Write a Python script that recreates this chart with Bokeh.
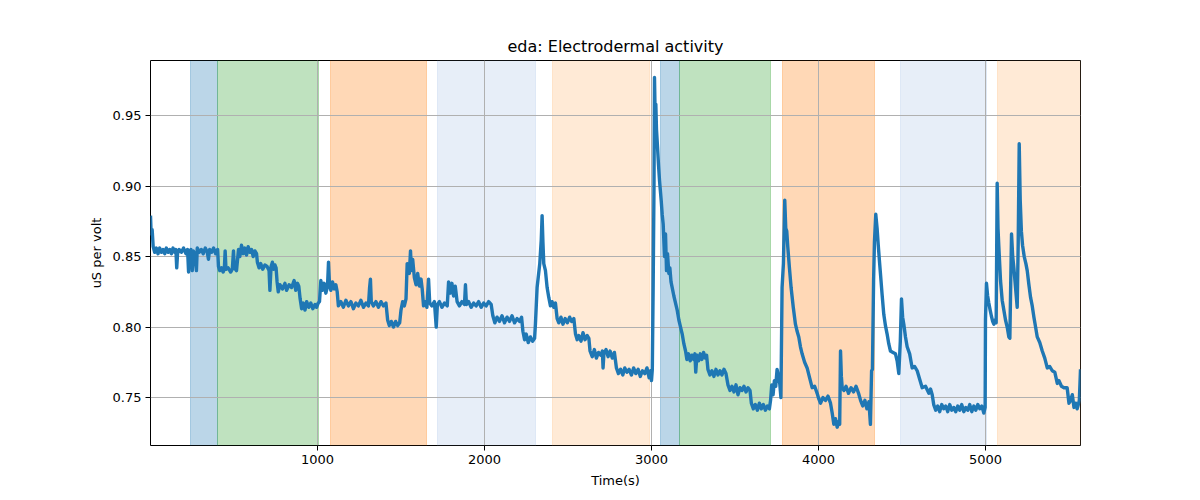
from bokeh.plotting import figure
from bokeh.models import ColumnDataSource, FixedTicker, PrintfTickFormatter, Range1d
from bokeh.embed import file_html
from bokeh.resources import INLINE

# ---------------- data ----------------
title_text = "eda: Electrodermal activity"
x_label = "Time(s)"
y_label = "uS per volt"

x_ticks = [1000, 2000, 3000, 4000, 5000]
y_ticks = [0.75, 0.80, 0.85, 0.90, 0.95]

# shaded condition intervals (seconds)
band_start = [240, 403, 1078, 1719, 2409, 3054, 3170, 3787, 4491, 5072]
band_end = [403, 1008, 1651, 2305, 2988, 3170, 3711, 4335, 5004, 5600]
band_color = ["#1f77b4", "#2ca02c", "#ff7f0e", "#aec7e8", "#ffbb78",
              "#1f77b4", "#2ca02c", "#ff7f0e", "#aec7e8", "#ffbb78"]
band_alpha = [0.3, 0.3, 0.3, 0.3, 0.3, 0.3, 0.3, 0.3, 0.3, 0.3]

# EDA signal samples: (time s, value uS per volt)
eda_samples = [
    (0, 0.879), (4, 0.866), (10, 0.869), (16, 0.857), (25, 0.853), (35, 0.856),
    (45, 0.852), (55, 0.856), (65, 0.853), (75, 0.855), (85, 0.852), (95, 0.856),
    (105, 0.853), (115, 0.855), (125, 0.852), (135, 0.856), (145, 0.853), (152, 0.855),
    (157, 0.842), (162, 0.852), (172, 0.855), (185, 0.853), (198, 0.856), (212, 0.852),
    (222, 0.855), (228, 0.839), (233, 0.853), (242, 0.855), (250, 0.840), (256, 0.854),
    (265, 0.852), (275, 0.840), (280, 0.856), (292, 0.853), (304, 0.855), (316, 0.852),
    (328, 0.856), (340, 0.853), (347, 0.848), (354, 0.855), (366, 0.853), (378, 0.856),
    (390, 0.852), (402, 0.855),
    (407, 0.843), (415, 0.840), (425, 0.842), (435, 0.839), (442, 0.841), (447, 0.854),
    (452, 0.841), (465, 0.842), (480, 0.839), (490, 0.841), (497, 0.854), (502, 0.842),
    (515, 0.840), (527, 0.855), (535, 0.850), (545, 0.858), (555, 0.852), (565, 0.856),
    (575, 0.851), (585, 0.857), (595, 0.853), (605, 0.855), (615, 0.850), (625, 0.854),
    (635, 0.852),
    (640, 0.846), (650, 0.842), (660, 0.845), (672, 0.841), (685, 0.844), (698, 0.843),
    (710, 0.840), (715, 0.826), (722, 0.843), (730, 0.846), (737, 0.841), (745, 0.844),
    (752, 0.842),
    (758, 0.832), (765, 0.825), (775, 0.830), (790, 0.827), (805, 0.831), (815, 0.826),
    (830, 0.830), (845, 0.828), (860, 0.833), (870, 0.826), (880, 0.831), (888, 0.829),
    (896, 0.820), (905, 0.813), (915, 0.817), (925, 0.812), (935, 0.818), (948, 0.814),
    (960, 0.817), (972, 0.813), (985, 0.816), (995, 0.814), (1004, 0.817),
    (1012, 0.818), (1020, 0.833), (1030, 0.826), (1040, 0.831), (1050, 0.824),
    (1060, 0.829), (1066, 0.846), (1072, 0.830), (1080, 0.826), (1090, 0.832),
    (1100, 0.827), (1110, 0.830), (1118, 0.825),
    (1125, 0.815), (1140, 0.818), (1155, 0.814), (1170, 0.819), (1185, 0.815),
    (1200, 0.818), (1215, 0.813), (1230, 0.817), (1245, 0.815), (1260, 0.819),
    (1275, 0.814), (1290, 0.817), (1305, 0.815), (1312, 0.828), (1317, 0.834),
    (1322, 0.818), (1335, 0.815), (1350, 0.818), (1365, 0.814), (1380, 0.818),
    (1395, 0.815), (1410, 0.817),
    (1420, 0.805), (1430, 0.801), (1442, 0.804), (1455, 0.800), (1468, 0.804),
    (1480, 0.801), (1492, 0.803),
    (1500, 0.812), (1510, 0.818), (1520, 0.815), (1530, 0.820), (1537, 0.845),
    (1550, 0.838), (1557, 0.854), (1562, 0.840), (1570, 0.848), (1580, 0.835),
    (1590, 0.830), (1600, 0.838), (1610, 0.829), (1620, 0.834), (1627, 0.827),
    (1635, 0.815), (1645, 0.818), (1655, 0.814), (1665, 0.834), (1672, 0.817),
    (1685, 0.815), (1700, 0.818), (1711, 0.800), (1718, 0.816), (1730, 0.818),
    (1745, 0.814), (1760, 0.817), (1777, 0.815), (1785, 0.832), (1795, 0.824),
    (1805, 0.831), (1815, 0.822), (1825, 0.829), (1836, 0.818), (1850, 0.815),
    (1865, 0.818), (1880, 0.816), (1886, 0.830), (1892, 0.816), (1905, 0.818),
    (1920, 0.814), (1935, 0.817), (1950, 0.815), (1965, 0.818), (1980, 0.814),
    (1995, 0.817), (2010, 0.815), (2025, 0.818), (2040, 0.816),
    (2050, 0.808), (2062, 0.803), (2075, 0.807), (2090, 0.804), (2105, 0.808),
    (2120, 0.803), (2135, 0.807), (2150, 0.804), (2165, 0.808), (2180, 0.803),
    (2195, 0.806), (2210, 0.804), (2222, 0.807),
    (2230, 0.797), (2240, 0.791), (2250, 0.795), (2262, 0.789), (2275, 0.793),
    (2288, 0.790), (2300, 0.792),
    (2305, 0.802), (2315, 0.828), (2331, 0.845), (2340, 0.862), (2345, 0.879),
    (2350, 0.860), (2355, 0.845), (2365, 0.840), (2375, 0.828), (2385, 0.821),
    (2395, 0.815), (2405, 0.818), (2415, 0.814), (2425, 0.817),
    (2435, 0.806), (2445, 0.803), (2458, 0.807), (2470, 0.802), (2483, 0.806),
    (2496, 0.803), (2510, 0.807), (2522, 0.804), (2535, 0.806),
    (2545, 0.795), (2555, 0.791), (2565, 0.794), (2578, 0.790), (2590, 0.796),
    (2602, 0.791), (2615, 0.794), (2625, 0.792),
    (2632, 0.783), (2645, 0.779), (2658, 0.784), (2670, 0.778), (2683, 0.782),
    (2696, 0.780), (2706, 0.783), (2710, 0.771), (2715, 0.781), (2728, 0.784),
    (2740, 0.779), (2752, 0.783), (2765, 0.778), (2778, 0.782),
    (2790, 0.771), (2802, 0.767), (2815, 0.770), (2828, 0.766), (2840, 0.771),
    (2853, 0.768), (2866, 0.770), (2880, 0.766), (2893, 0.771), (2906, 0.767),
    (2920, 0.770), (2933, 0.765), (2946, 0.769), (2960, 0.767), (2973, 0.771),
    (2986, 0.764), (2995, 0.769), (3000, 0.762),
    (3005, 0.770), (3010, 0.828), (3015, 0.900), (3018, 0.977), (3022, 0.950),
    (3026, 0.958), (3030, 0.940), (3036, 0.928), (3042, 0.915), (3048, 0.904),
    (3053, 0.897), (3058, 0.890), (3064, 0.880), (3070, 0.873), (3078, 0.850),
    (3084, 0.866), (3090, 0.840), (3096, 0.852), (3104, 0.838), (3110, 0.842),
    (3117, 0.832), (3124, 0.828), (3134, 0.822), (3144, 0.817), (3154, 0.812),
    (3164, 0.805), (3174, 0.800), (3184, 0.795), (3194, 0.788), (3204, 0.783),
    (3212, 0.777), (3222, 0.781), (3232, 0.776), (3242, 0.780), (3252, 0.777),
    (3260, 0.781), (3265, 0.768), (3272, 0.780), (3282, 0.776), (3292, 0.781),
    (3302, 0.777), (3312, 0.782), (3322, 0.778), (3330, 0.780),
    (3338, 0.770), (3350, 0.766), (3362, 0.769), (3374, 0.765), (3386, 0.770),
    (3398, 0.766), (3410, 0.769), (3422, 0.766), (3434, 0.770), (3446, 0.767),
    (3458, 0.759), (3470, 0.755), (3482, 0.758), (3494, 0.754), (3506, 0.759),
    (3518, 0.752), (3530, 0.757), (3542, 0.755), (3554, 0.758), (3566, 0.754),
    (3578, 0.757), (3590, 0.755),
    (3598, 0.746), (3610, 0.742), (3622, 0.745), (3634, 0.741), (3646, 0.746),
    (3658, 0.742), (3670, 0.745), (3682, 0.741), (3694, 0.744), (3706, 0.742),
    (3713, 0.748), (3720, 0.759), (3728, 0.752), (3736, 0.762), (3744, 0.758),
    (3752, 0.770), (3760, 0.765), (3768, 0.760), (3775, 0.750), (3782, 0.828),
    (3790, 0.845), (3798, 0.890), (3804, 0.870), (3810, 0.868), (3816, 0.857),
    (3826, 0.842), (3836, 0.828), (3849, 0.814), (3862, 0.802), (3872, 0.797),
    (3882, 0.793), (3892, 0.786), (3902, 0.781), (3917, 0.775), (3932, 0.771),
    (3947, 0.764), (3962, 0.757), (3977, 0.758), (3992, 0.753), (4002, 0.749),
    (4012, 0.746), (4027, 0.750), (4042, 0.748), (4057, 0.751), (4072, 0.746),
    (4082, 0.739), (4092, 0.731), (4102, 0.735), (4112, 0.729), (4122, 0.733),
    (4127, 0.731), (4132, 0.783), (4137, 0.765), (4142, 0.757), (4152, 0.755),
    (4165, 0.758), (4180, 0.753), (4195, 0.757), (4210, 0.754), (4225, 0.758),
    (4240, 0.753), (4252, 0.748), (4265, 0.744), (4278, 0.748), (4290, 0.742),
    (4302, 0.747), (4311, 0.731), (4318, 0.769), (4323, 0.770), (4330, 0.833),
    (4335, 0.860), (4343, 0.880), (4351, 0.870), (4358, 0.858), (4365, 0.847),
    (4371, 0.838), (4381, 0.823), (4391, 0.809), (4401, 0.801), (4411, 0.795),
    (4421, 0.788), (4431, 0.783), (4446, 0.782), (4461, 0.781), (4471, 0.776),
    (4481, 0.767), (4490, 0.790), (4497, 0.820), (4504, 0.807), (4511, 0.802),
    (4521, 0.793), (4531, 0.786), (4546, 0.781), (4561, 0.771), (4576, 0.772),
    (4591, 0.769), (4606, 0.763), (4621, 0.757), (4641, 0.758), (4661, 0.753),
    (4671, 0.756), (4681, 0.752),
    (4690, 0.745), (4702, 0.741), (4714, 0.744), (4726, 0.740), (4738, 0.745),
    (4750, 0.742), (4762, 0.744), (4774, 0.740), (4786, 0.745), (4798, 0.741),
    (4810, 0.743), (4822, 0.740), (4834, 0.744), (4846, 0.741), (4858, 0.745),
    (4870, 0.740), (4882, 0.743), (4894, 0.741), (4906, 0.745), (4918, 0.740),
    (4930, 0.744), (4942, 0.741), (4954, 0.745), (4966, 0.742), (4978, 0.744),
    (4990, 0.739), (4998, 0.743),
    (5000, 0.805), (5006, 0.831), (5013, 0.822), (5020, 0.817), (5028, 0.812),
    (5035, 0.808), (5043, 0.804), (5050, 0.802), (5058, 0.805), (5064, 0.803),
    (5070, 0.902), (5075, 0.870), (5080, 0.857), (5090, 0.833), (5100, 0.819),
    (5110, 0.812), (5120, 0.805), (5130, 0.800), (5140, 0.793), (5146, 0.792),
    (5151, 0.830), (5156, 0.866), (5163, 0.850), (5170, 0.842), (5180, 0.828),
    (5190, 0.814), (5196, 0.860), (5202, 0.930), (5208, 0.890), (5215, 0.868),
    (5222, 0.858), (5232, 0.850), (5242, 0.845), (5250, 0.840), (5260, 0.830),
    (5270, 0.821), (5280, 0.815), (5290, 0.807), (5300, 0.800), (5310, 0.793),
    (5325, 0.789), (5340, 0.783), (5355, 0.778), (5370, 0.771), (5385, 0.772),
    (5400, 0.769), (5415, 0.768), (5430, 0.760), (5440, 0.762), (5455, 0.758),
    (5470, 0.757), (5489, 0.757), (5500, 0.746), (5509, 0.748), (5520, 0.752),
    (5530, 0.743), (5540, 0.746), (5549, 0.742), (5556, 0.745), (5562, 0.748),
    (5569, 0.770),
]
time_s = [t for t, _ in eda_samples]
eda_values = [v for _, v in eda_samples]

# ---------------- figure ----------------
FONT = "DejaVu Sans"

p = figure(
    width=1184, height=492,
    output_backend="svg", toolbar_location=None,
    x_range=Range1d(0, 5569), y_range=Range1d(0.716, 0.989),
    min_border_left=150, min_border_right=104,
    min_border_top=60, min_border_bottom=47,
)
p.title.text = title_text
p.title.align = "center"
p.title.text_font = FONT
p.title.text_font_size = "16px"
p.title.text_font_style = "normal"
p.title.text_color = "black"

band_src = ColumnDataSource(dict(x0=band_start, x1=band_end,
                                 color=band_color, alpha=band_alpha))
p.vstrip(x0="x0", x1="x1", source=band_src,
         fill_color="color", fill_alpha="alpha",
         line_color="color", line_alpha="alpha", line_width=1,
         level="image")

src = ColumnDataSource(dict(t=time_s, v=eda_values))
p.line("t", "v", source=src, line_color="#1f77b4", line_width=3.4,
       line_join="round")

p.xaxis.ticker = FixedTicker(ticks=x_ticks)
p.yaxis.ticker = FixedTicker(ticks=y_ticks)
p.yaxis.formatter = PrintfTickFormatter(format="%.2f")
p.xaxis.axis_label = x_label
p.yaxis.axis_label = y_label

for ax in (p.xaxis[0], p.yaxis[0]):
    ax.axis_label_text_font = FONT
    ax.axis_label_text_font_size = "13px"
    ax.axis_label_text_font_style = "normal"
    ax.axis_label_text_color = "black"
    ax.major_label_text_font = FONT
    ax.major_label_text_font_size = "13px"
    ax.major_label_text_color = "black"
    ax.axis_line_color = None
    ax.major_tick_line_color = "black"
    ax.major_tick_in = 0
    ax.major_tick_out = 5
    ax.minor_tick_line_color = None
    ax.axis_label_standoff = 6
    ax.major_label_standoff = 4

p.outline_line_color = "black"
p.outline_line_width = 1
p.outline_line_alpha = 1

p.xgrid.ticker = FixedTicker(ticks=x_ticks)
p.ygrid.ticker = FixedTicker(ticks=y_ticks)
for g in (p.xgrid[0], p.ygrid[0]):
    g.grid_line_color = "#b0b0b0"
    g.grid_line_width = 1
    g.level = "underlay"

p.background_fill_color = "white"
p.border_fill_color = "white"

open("out.html", "w").write(file_html(p, INLINE))
